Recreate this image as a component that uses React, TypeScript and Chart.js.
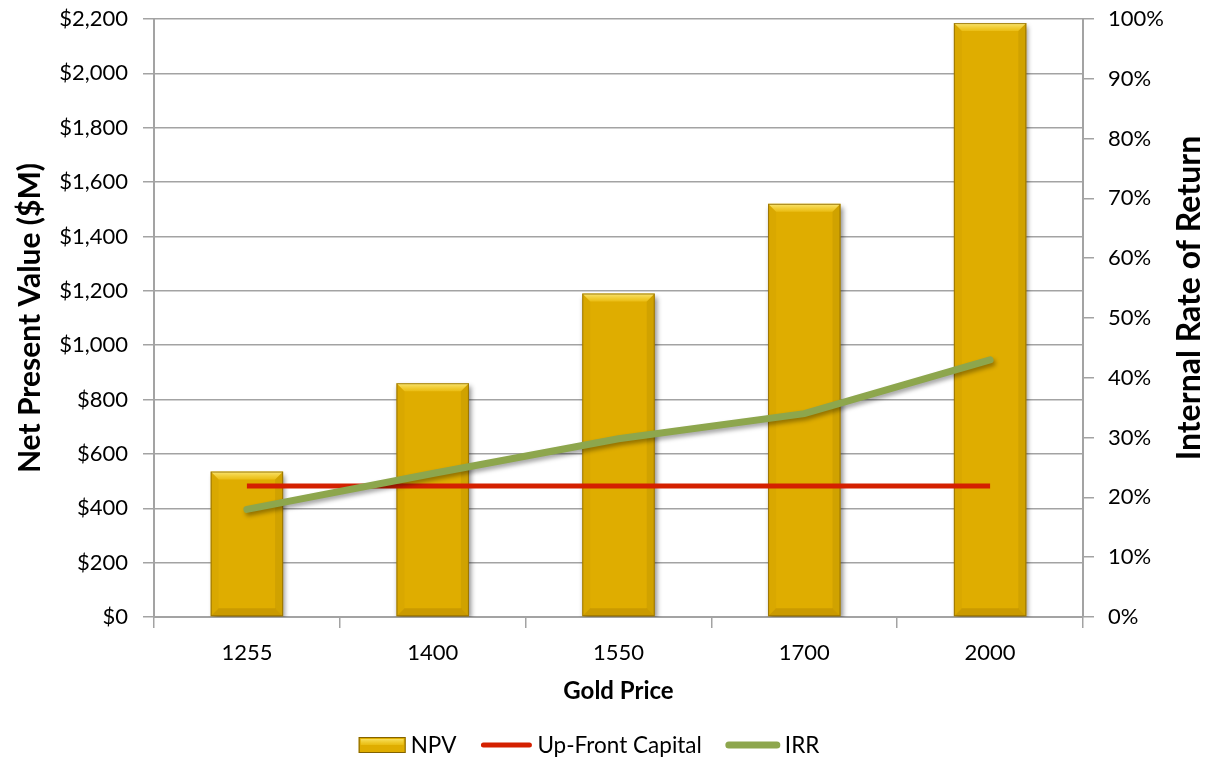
import React, { useEffect, useRef } from 'react';
import { Chart, registerables } from 'chart.js';

Chart.register(...registerables);

const goldPrices = ['1255', '1400', '1550', '1700', '2000'];
const npvValues = [535, 860, 1190, 1520, 2185];
const upFrontCapital = [482, 482, 482, 482, 482];
const irrValues = [18, 24, 29.8, 34, 43];

const FONT = 'Lato, "Open Sans", sans-serif';
const GOLD = '#DFAD00';
const RED = '#D42000';
const GREEN = '#8DA64D';
const GRID = '#A3A3A3';

const shadowPlugin = {
  id: 'shadowBevel',
  beforeDatasetDraw(chart: any, args: any) {
    const ctx = chart.ctx;
    ctx.save();
    if (args.index === 0) {
      ctx.shadowColor = 'rgba(0,0,0,0.45)';
      ctx.shadowBlur = 5;
      ctx.shadowOffsetX = 2;
      ctx.shadowOffsetY = 3;
    } else if (args.index === 2) {
      ctx.shadowColor = 'rgba(0,0,0,0.35)';
      ctx.shadowBlur = 4;
      ctx.shadowOffsetX = 2;
      ctx.shadowOffsetY = 3;
    }
  },
  afterDatasetDraw(chart: any, args: any) {
    const ctx = chart.ctx;
    ctx.restore();
    if (args.index !== 0) return;
    const meta = chart.getDatasetMeta(0);
    meta.data.forEach((bar: any) => {
      const p = bar.getProps(['x', 'y', 'base', 'width'], true);
      const l = p.x - p.width / 2;
      const r = p.x + p.width / 2;
      const t = p.y;
      const b = p.base;
      const d = 8;
      const poly = (pts: number[][], fill: any) => {
        ctx.beginPath();
        ctx.moveTo(pts[0][0], pts[0][1]);
        for (let i = 1; i < pts.length; i++) ctx.lineTo(pts[i][0], pts[i][1]);
        ctx.closePath();
        ctx.fillStyle = fill;
        ctx.fill();
      };
      const gTop = ctx.createLinearGradient(0, t, 0, t + d);
      gTop.addColorStop(0, 'rgba(255,240,140,0.85)');
      gTop.addColorStop(1, 'rgba(255,220,60,0.35)');
      poly([[l, t], [r, t], [r - d, t + d], [l + d, t + d]], gTop);
      poly([[l, b], [r, b], [r - d, b - d], [l + d, b - d]], 'rgba(120,80,0,0.2)');
      poly([[l, t], [l + d, t + d], [l + d, b - d], [l, b]], 'rgba(150,110,0,0.08)');
      poly([[r, t], [r - d, t + d], [r - d, b - d], [r, b]], 'rgba(110,80,0,0.12)');
      ctx.strokeStyle = 'rgba(140,105,0,0.8)';
      ctx.lineWidth = 1;
      ctx.strokeRect(l + 0.5, t + 0.5, r - l - 1, b - t - 1);
    });
  },
};

const overlayPlugin = {
  id: 'overlay',
  afterDraw(chart: any) {
    const ctx = chart.ctx;
    ctx.save();
    // right axis title, reading bottom-to-top
    ctx.translate(1190, 298);
    ctx.rotate(-Math.PI / 2);
    ctx.font = `bold 32px ${FONT}`;
    ctx.fillStyle = '#000';
    ctx.textAlign = 'center';
    ctx.textBaseline = 'middle';
    ctx.fillText('Internal Rate of Return', 0, 0);
    ctx.restore();

    ctx.save();
    ctx.font = `22.5px ${FONT}`;
    ctx.textBaseline = 'middle';
    ctx.fillStyle = '#000';
    const items = [
      { label: 'NPV', type: 'bar', color: GOLD, w: 47 },
      { label: 'Up-Front Capital', type: 'line', color: RED, w: 52 },
      { label: 'IRR', type: 'line', color: GREEN, w: 54 },
    ];
    const gapText = 5;
    const gapItem = 24;
    let total = 0;
    items.forEach((it, i) => {
      total += it.w + gapText + ctx.measureText(it.label).width + (i < items.length - 1 ? gapItem : 0);
    });
    let x = 589 - total / 2;
    const cy = 745;
    items.forEach((it) => {
      if (it.type === 'bar') {
        ctx.fillStyle = GOLD;
        ctx.fillRect(x, cy - 8, it.w, 16);
        const g = ctx.createLinearGradient(0, cy - 8, 0, cy);
        g.addColorStop(0, 'rgba(255,245,150,0.9)');
        g.addColorStop(1, 'rgba(255,225,60,0.3)');
        ctx.fillStyle = g;
        ctx.fillRect(x + 2, cy - 6, it.w - 4, 6);
        ctx.strokeStyle = 'rgba(120,90,0,0.9)';
        ctx.lineWidth = 1;
        ctx.strokeRect(x + 0.5, cy - 7.5, it.w - 1, 15);
      } else {
        ctx.strokeStyle = it.color;
        ctx.lineWidth = it.color === GREEN ? 7 : 5;
        ctx.lineCap = 'round';
        ctx.beginPath();
        ctx.moveTo(x + 3, cy);
        ctx.lineTo(x + it.w - 3, cy);
        ctx.stroke();
      }
      x += it.w + gapText;
      ctx.fillStyle = '#000';
      ctx.fillText(it.label, x, cy + 1);
      x += ctx.measureText(it.label).width + gapItem;
    });
    ctx.restore();
  },
};

export default function App() {
  const ref = useRef<HTMLCanvasElement | null>(null);
  useEffect(() => {
    if (!ref.current) return;
    const chart = new Chart(ref.current, {
      type: 'bar',
      data: {
        labels: goldPrices,
        datasets: [
          {
            type: 'bar',
            label: 'NPV',
            data: npvValues,
            backgroundColor: GOLD,
            borderWidth: 0,
            barPercentage: 0.39,
            categoryPercentage: 1,
            yAxisID: 'y',
            order: 2,
          },
          {
            type: 'line',
            label: 'Up-Front Capital',
            data: upFrontCapital,
            borderColor: RED,
            backgroundColor: RED,
            borderWidth: 5,
            pointRadius: 0,
            tension: 0,
            yAxisID: 'y',
            order: 1,
          },
          {
            type: 'line',
            label: 'IRR',
            data: irrValues,
            borderColor: GREEN,
            backgroundColor: GREEN,
            borderWidth: 7,
            pointRadius: 0,
            tension: 0,
            borderCapStyle: 'round',
            yAxisID: 'y1',
            order: 0,
          },
        ] as any,
      },
      options: {
        responsive: false,
        animation: false,
        layout: { padding: { top: 19, left: 0, right: 0, bottom: 0 } },
        plugins: {
          legend: { display: false },
          tooltip: { enabled: false },
        },
        scales: {
          x: {
            offset: true,
            afterFit: (s: any) => { s.height = 142; s.paddingLeft = 0; s.paddingRight = 0; },
            grid: {
              offset: true,
              drawOnChartArea: false,
              drawTicks: true,
              tickLength: 11,
              color: GRID,
              lineWidth: 1.5,
            },
            border: { color: GRID, width: 2 },
            ticks: { color: '#000', font: { family: FONT, size: 22 }, padding: 12 },
            title: {
              display: true,
              text: 'Gold Price',
              color: '#000',
              font: { family: FONT, size: 24, weight: 'bold' },
              padding: { top: 0, bottom: 53 },
            },
          },
          y: {
            position: 'left',
            min: 0,
            max: 2200,
            afterFit: (s: any) => { s.width = 154; s.paddingTop = 0; s.paddingBottom = 0; },
            ticks: {
              stepSize: 200,
              color: '#000',
              font: { family: FONT, size: 22 },
              padding: 15,
              callback: (v: any) => '$' + Number(v).toLocaleString('en-US'),
            },
            grid: { color: GRID, lineWidth: 1.5, tickLength: 11 },
            border: { color: GRID, width: 2 },
            title: {
              display: true,
              text: 'Net Present Value ($M)',
              color: '#000',
              font: { family: FONT, size: 30, weight: 'bold' },
              padding: { top: 12, bottom: 0 },
            },
          },
          y1: {
            position: 'right',
            min: 0,
            max: 100,
            afterFit: (s: any) => { s.width = 132; s.paddingTop = 0; s.paddingBottom = 0; },
            ticks: {
              stepSize: 10,
              color: '#000',
              font: { family: FONT, size: 22 },
              padding: 14,
              callback: (v: any) => v + '%',
            },
            grid: { drawOnChartArea: false, color: GRID, lineWidth: 1.5, tickLength: 11 },
            border: { color: GRID, width: 2 },
            title: { display: false },
          },
        },
      } as any,
      plugins: [shadowPlugin, overlayPlugin],
    });
    return () => chart.destroy();
  }, []);
  return (
    <canvas
      ref={ref}
      width={1215}
      height={759}
      style={{ position: 'absolute', left: 0, top: 0, width: 1215, height: 759, background: '#fff' }}
    />
  );
}
